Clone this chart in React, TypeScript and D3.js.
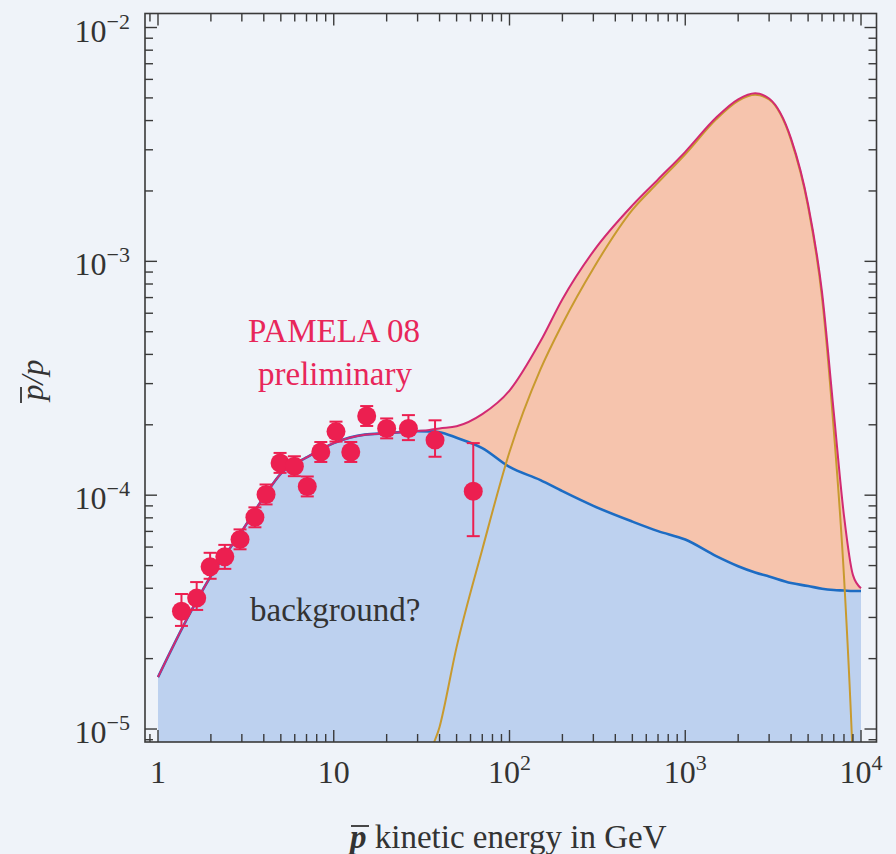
import React from 'react';
import * as d3 from 'd3';

// Energy grid shared by the background and total curves (GeV)
const curveEnergy = [1, 1.5, 2, 3, 4, 5, 7, 10, 15, 20, 30, 35, 40, 50, 70, 100, 150, 200, 300, 500, 700, 1000, 1500, 2000, 2500, 3000, 4000, 5000, 6000, 7000, 8000, 9000, 10000];
// Background (secondary antiprotons), blue curve
const bgRatio = [1.667e-5, 3.07e-5, 4.51e-5, 7.02e-5, 9.81e-5, 1.236e-4, 1.45e-4, 1.67e-4, 1.815e-4, 1.84e-4, 1.88e-4, 1.875e-4, 1.86e-4, 1.76e-4, 1.59e-4, 1.32e-4, 1.16e-4, 1.04e-4, 9.0e-5, 7.71e-5, 7.02e-5, 6.46e-5, 5.49e-5, 4.97e-5, 4.67e-5, 4.49e-5, 4.21e-5, 4.09e-5, 3.98e-5, 3.93e-5, 3.91e-5, 3.89e-5, 3.89e-5];
// Total (background + signal), magenta curve
const totalRatio = [1.667e-5, 3.07e-5, 4.51e-5, 7.02e-5, 9.81e-5, 1.236e-4, 1.45e-4, 1.67e-4, 1.815e-4, 1.84e-4, 1.88e-4, 1.9e-4, 1.93e-4, 1.97e-4, 2.22e-4, 2.80e-4, 4.55e-4, 6.89e-4, 1.104e-3, 1.735e-3, 2.24e-3, 2.94e-3, 4.12e-3, 4.93e-3, 5.23e-3, 4.97e-3, 3.35e-3, 1.75e-3, 7.39e-4, 2.26e-4, 8.18e-5, 4.55e-5, 4.0e-5];

// Signal (DM) contribution, brown curve
const sigEnergy = [30, 35, 40, 50, 70, 100, 150, 200, 300, 500, 700, 1000, 1500, 2000, 2500, 3000, 4000, 5000, 6000, 7000, 8000, 9000, 10000];
const sigRatio = [3.5e-6, 7.5e-6, 1.02e-5, 2.24e-5, 5.86e-5, 1.53e-4, 3.45e-4, 5.4e-4, 9.33e-4, 1.66e-3, 2.17e-3, 2.87e-3, 4.05e-3, 4.86e-3, 5.16e-3, 4.92e-3, 3.3e-3, 1.71e-3, 7.0e-4, 1.9e-4, 4.5e-5, 7e-6, 5e-7];

// PAMELA 08 preliminary data points
const dataEnergy = [1.36, 1.66, 1.98, 2.40, 2.93, 3.56, 4.12, 4.95, 5.97, 7.07, 8.44, 10.3, 12.5, 15.4, 20.0, 26.6, 37.7, 62.2];
const dataRatio = [3.19e-5, 3.63e-5, 4.94e-5, 5.45e-5, 6.47e-5, 8.04e-5, 1.007e-4, 1.374e-4, 1.33e-4, 1.09e-4, 1.53e-4, 1.87e-4, 1.53e-4, 2.18e-4, 1.93e-4, 1.93e-4, 1.72e-4, 1.04e-4];
const dataUpper = [3.78e-5, 4.25e-5, 5.67e-5, 6.13e-5, 7.14e-5, 8.87e-5, 1.111e-4, 1.516e-4, 1.467e-4, 1.202e-4, 1.688e-4, 2.063e-4, 1.688e-4, 2.405e-4, 2.129e-4, 2.20e-4, 2.09e-4, 1.67e-4];
const dataLower = [2.76e-5, 3.23e-5, 4.39e-5, 4.84e-5, 5.87e-5, 7.29e-5, 9.13e-5, 1.246e-4, 1.206e-4, 9.88e-5, 1.387e-4, 1.695e-4, 1.387e-4, 1.977e-4, 1.75e-4, 1.72e-4, 1.46e-4, 6.68e-5];

const xMajorValues = [1, 10, 100, 1000, 10000];
const xMajorBase = ['1', '10', '10', '10', '10'];
const xMajorExp = ['', '', '2', '3', '4'];
const yMajorValues = [1e-5, 1e-4, 1e-3, 1e-2];
const yMajorExp = ['\u22125', '\u22124', '\u22123', '\u22122'];

const W = 896;
const H = 854;
const L = 145;
const R = 876.5;
const T = 13.5;
const B = 742;
const FONT = '"Liberation Serif", "Times New Roman", serif';

const isMajor = (v: number) => Math.abs(Math.log10(v) - Math.round(Math.log10(v))) < 1e-6;

type P = { e: number; v: number };
type Band = { e: number; lo: number; hi: number };

export default function App() {
  const x = d3.scaleLog().domain([0.8435, 12250]).range([L, R]);
  const y = d3.scaleLog().domain([8.8e-6, 1.148e-2]).range([B, T]);

  const bgPts: P[] = curveEnergy.map((e, i) => ({ e, v: bgRatio[i] }));
  const totPts: P[] = curveEnergy.map((e, i) => ({ e, v: totalRatio[i] }));
  const sigPts: P[] = sigEnergy.map((e, i) => ({ e, v: sigRatio[i] }));
  const band: Band[] = curveEnergy.map((e, i) => ({ e, lo: bgRatio[i], hi: totalRatio[i] }));

  const bgArea = d3.area<P>()
    .x(d => x(d.e)).y0(B).y1(d => y(d.v)).curve(d3.curveMonotoneX)(bgPts) || '';
  const sigArea = d3.area<Band>()
    .x(d => x(d.e)).y0(d => y(d.lo)).y1(d => y(d.hi)).curve(d3.curveMonotoneX)(band) || '';
  const lineGen = d3.line<P>().x(d => x(d.e)).y(d => y(d.v)).curve(d3.curveMonotoneX);
  const bgLine = lineGen(bgPts) || '';
  const sigLine = lineGen(sigPts) || '';
  const totLine = lineGen(totPts) || '';

  const xTicks = x.ticks();
  const yTicks = y.ticks();
  const tickColor = '#3a3a3a';
  const red = '#ec1f50';

  return (
    <svg width={W} height={H} style={{ position: 'absolute', left: 0, top: 0, display: 'block' }} fontFamily={FONT}>
      <rect x={0} y={0} width={W} height={H} fill="#eff3f9" />
      <defs>
        <clipPath id="plotClip">
          <rect x={L} y={T} width={R - L} height={B - T} />
        </clipPath>
      </defs>
      <g clipPath="url(#plotClip)">
        <path d={bgArea} fill="#bdd1ef" />
        <path d={sigArea} fill="#f6c4ad" />
        <path d={bgLine} fill="none" stroke="#1d6cc3" strokeWidth={2.6} />
        <path d={sigLine} fill="none" stroke="#c89a2e" strokeWidth={2} />
        <path d={totLine} fill="none" stroke="#d22a72" strokeWidth={2} />
      </g>

      {/* data points */}
      <g>
        {dataEnergy.map((e, i) => {
          const cx = x(e);
          return (
            <g key={i}>
              <line x1={cx} x2={cx} y1={y(dataUpper[i])} y2={y(dataLower[i])} stroke={red} strokeWidth={2} />
              <line x1={cx - 6.5} x2={cx + 6.5} y1={y(dataUpper[i])} y2={y(dataUpper[i])} stroke={red} strokeWidth={2} />
              <line x1={cx - 6.5} x2={cx + 6.5} y1={y(dataLower[i])} y2={y(dataLower[i])} stroke={red} strokeWidth={2} />
              <circle cx={cx} cy={y(dataRatio[i])} r={9.5} fill={red} />
            </g>
          );
        })}
      </g>

      {/* frame */}
      <rect x={L} y={T} width={R - L} height={B - T} fill="none" stroke={tickColor} strokeWidth={1.6} />

      {/* x ticks top & bottom */}
      {xTicks.map((t, i) => {
        const px = x(t);
        const len = isMajor(t) ? 12 : 8;
        return (
          <g key={'xt' + i} stroke={tickColor} strokeWidth={1.4}>
            <line x1={px} x2={px} y1={B} y2={B - len} />
            <line x1={px} x2={px} y1={T} y2={T + len} />
          </g>
        );
      })}
      {/* y ticks left & right */}
      {yTicks.map((t, i) => {
        const py = y(t);
        const len = isMajor(t) ? 12 : 8;
        return (
          <g key={'yt' + i} stroke={tickColor} strokeWidth={1.4}>
            <line x1={L} x2={L + len} y1={py} y2={py} />
            <line x1={R} x2={R - len} y1={py} y2={py} />
          </g>
        );
      })}

      {/* x tick labels */}
      {xMajorValues.map((v, i) => (
        <text key={'xl' + i} x={x(v)} y={783} textAnchor="middle" fontSize={32} fill="#333">
          {xMajorBase[i]}
          {xMajorExp[i] ? <tspan fontSize={22} dy={-13}>{xMajorExp[i]}</tspan> : null}
        </text>
      ))}
      {/* y tick labels */}
      {yMajorValues.map((v, i) => (
        <text key={'yl' + i} x={130} y={y(v) + 14} textAnchor="end" fontSize={32} fill="#333">
          10<tspan fontSize={22} dy={-13}>{yMajorExp[i]}</tspan>
        </text>
      ))}

      {/* y axis title */}
      <g transform="translate(43,380) rotate(-90)">
        <text x={0} y={0} textAnchor="middle" fontSize={32} fontStyle="italic" fill="#333">p/p</text>
        <line x1={-23} x2={-7} y1={-22} y2={-22} stroke="#333" strokeWidth={1.8} />
      </g>

      {/* x axis title */}
      <text x={350} y={848} fontSize={33} fill="#333">
        <tspan fontStyle="italic" fontWeight="bold">p</tspan> kinetic energy in GeV
      </text>
      <line x1={351} x2={369} y1={826} y2={826} stroke="#333" strokeWidth={1.8} />

      {/* annotations */}
      <text x={248} y={342} fontSize={33} fill="#e8265a">PAMELA 08</text>
      <text x={258} y={385} fontSize={33} fill="#e8265a">preliminary</text>
      <text x={250} y={621} fontSize={33} fill="#333">background?</text>
    </svg>
  );
}
